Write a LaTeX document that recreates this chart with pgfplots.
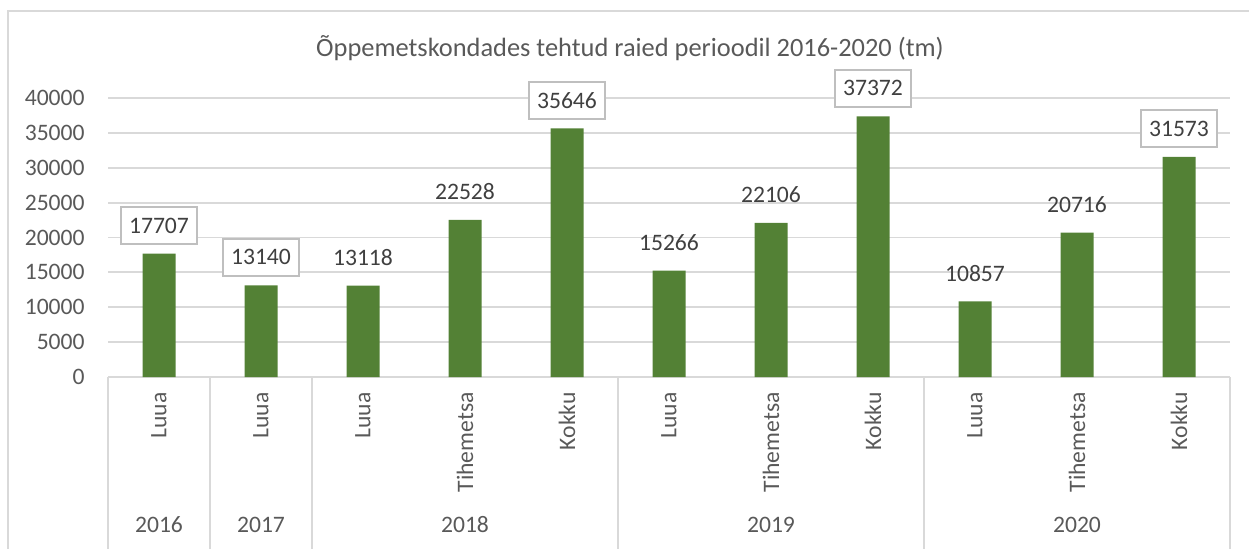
\documentclass[border=0pt]{standalone}
\usepackage{fontspec}
\setmainfont{Carlito}
\usepackage{pgfplots}
\pgfplotsset{compat=1.18}
\definecolor{barg}{HTML}{538135}
\definecolor{gridc}{HTML}{D9D9D9}
\definecolor{txt}{HTML}{595959}
\definecolor{lbl}{HTML}{404040}
\definecolor{boxc}{HTML}{BFBFBF}
\begin{document}
\fontsize{11.8pt}{14pt}\selectfont
\begin{tikzpicture}[font=\fontsize{11.8pt}{14pt}\selectfont]
\useasboundingbox (0,0) rectangle (624.5pt,-274pt);
\draw[gridc, line width=0.6pt] (4pt,-290pt) -- (4pt,-5.5pt) -- (640pt,-5.5pt);
\node[txt, font=\fontsize{13.2pt}{15pt}\selectfont] at (315pt,-24pt) {Õppemetskondades tehtud raied perioodil 2016-2020 (tm)};
\begin{axis}[
  at={(54pt,-188.5pt)}, anchor=south west,
  scale only axis, width=561pt, height=139.5pt,
  xmin=-0.5, xmax=10.5, ymin=0, ymax=40000,
  ytick={0,5000,...,40000},
  xtick={0,...,10},
  xticklabels={Luua,Luua,Luua,Tihemetsa,Kokku,Luua,Tihemetsa,Kokku,Luua,Tihemetsa,Kokku},
  xticklabel style={yshift=-7.5pt, rotate=90, anchor=east, inner sep=0pt, text=txt, font=\fontsize{11.8pt}{14pt}\selectfont},
  yticklabel style={anchor=east, inner sep=0pt, xshift=-11.5pt, text=txt, font=\fontsize{11.8pt}{14pt}\selectfont},
  scaled y ticks=false,
  /pgf/number format/.cd, fixed, precision=0, 1000 sep={}, assume math mode=true,
  /pgfplots/.cd,
  axis line style={draw=none},
  major tick length=0pt,
  ymajorgrids, grid style={gridc, line width=0.9pt},
  clip=false,
]
\addplot[ybar, bar width=16.5pt, fill=barg, draw=none] coordinates {
(0,17707) (1,13140) (2,13118) (3,22528) (4,35646) (5,15266) (6,22106) (7,37372) (8,10857) (9,20716) (10,31573)};
% boxed labels
\addplot[draw=none, mark=none, nodes near coords, point meta=y,
  every node near coord/.append style={anchor=center, yshift=14pt, draw=boxc, line width=0.8pt, fill=white, text=lbl, inner xsep=4pt, minimum height=18.5pt, font=\fontsize{11.8pt}{14pt}\selectfont}]
coordinates {(0,17707) (1,13140) (4,35646) (7,37372) (10,31573)};
% plain labels
\addplot[draw=none, mark=none, nodes near coords, point meta=y,
  every node near coord/.append style={anchor=center, yshift=14pt, text=lbl, font=\fontsize{11.8pt}{14pt}\selectfont}]
coordinates {(2,13118) (3,22528) (5,15266) (6,22106) (8,10857) (9,20716)};
% separators
\foreach \s in {-0.5,0.5,1.5,4.5,7.5,10.5}{
  \edef\tmp{\noexpand\draw[gridc, line width=0.6pt] (axis cs:\s,0) -- ([yshift=-90pt]axis cs:\s,0);}\tmp
}
\node[txt] at (axis cs:0,0) [yshift=-74pt] {2016};
\node[txt] at (axis cs:1,0) [yshift=-74pt] {2017};
\node[txt] at (axis cs:3,0) [yshift=-74pt] {2018};
\node[txt] at (axis cs:6,0) [yshift=-74pt] {2019};
\node[txt] at (axis cs:9,0) [yshift=-74pt] {2020};
\end{axis}
\end{tikzpicture}
\end{document}
